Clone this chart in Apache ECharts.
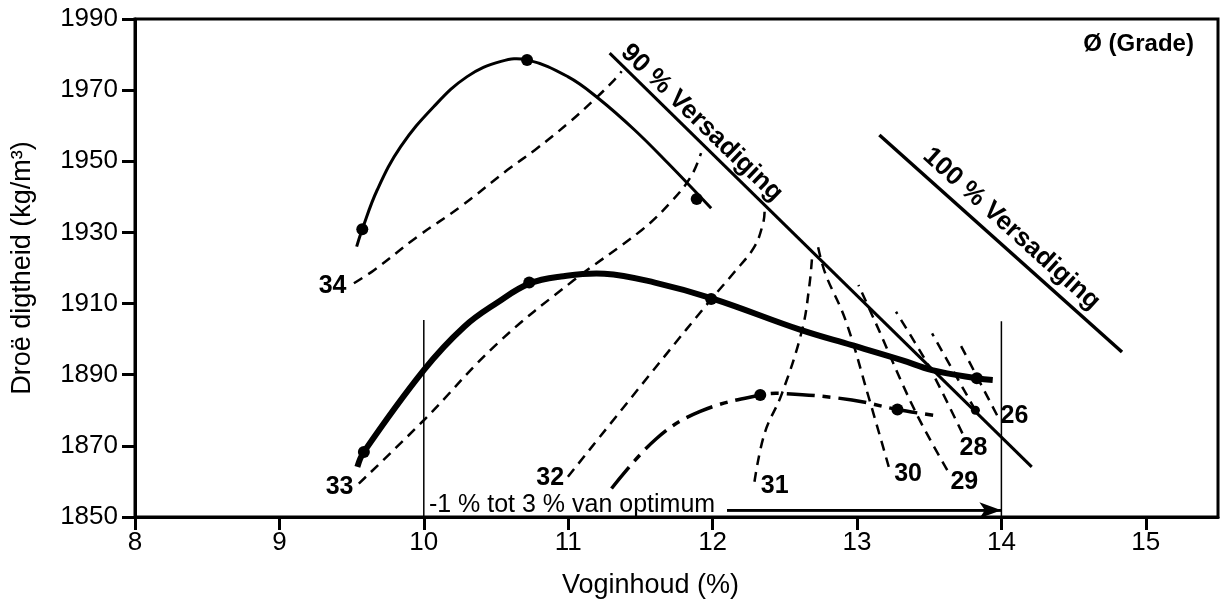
<!DOCTYPE html>
<html><head><meta charset="utf-8">
<script src="https://cdn.jsdelivr.net/npm/echarts@6/dist/echarts.min.js"></script>
<style>html,body{margin:0;padding:0;background:#fff}#c{width:1223px;height:604px}</style>
</head><body><div id="c"></div>
<script>
const FONT = '"Liberation Sans", Arial, Helvetica, sans-serif';

// axis ticks
const xTicks = [8, 9, 10, 11, 12, 13, 14, 15];
const yTicks = [1850, 1870, 1890, 1910, 1930, 1950, 1970, 1990];

// compaction curves (moisture %, dry density kg/m3)
const curve34 = [[9.535,1926.0],[9.574,1930.9],[9.678,1942.0],[9.84,1954.1],[10.07,1965.4],[10.30,1973.8],[10.535,1978.1],[10.715,1978.5],[10.997,1973.8],[11.206,1967.8],[11.46,1958.8],[11.69,1949.5],[11.99,1936.8]];
const dots34 = [[9.574,1930.9],[10.715,1978.5],[11.89,1939.4]];

const curve33 = [[9.54,1864.1],[9.585,1868.3],[10.0,1891.3],[10.28,1903.5],[10.51,1910.3],[10.73,1915.6],[10.95,1917.6],[11.25,1918.4],[11.6,1915.9],[12.0,1911.4],[12.61,1902.6],[12.965,1898.3],[13.31,1894.1],[13.52,1891.3],[13.83,1889.0],[13.94,1888.5]];
const dots33 = [[9.585,1868.3],[10.73,1915.9],[11.99,1911.3],[13.83,1889.0]];

const curveDashDot = [[11.30,1858.0],[11.61,1872.0],[11.91,1879.6],[12.33,1884.3],[12.50,1884.7],[12.965,1882.9],[13.28,1880.2],[13.53,1878.6]];
const dotsDashDot = [[12.33,1884.3],[13.28,1880.2]];
const dotsSat = [[13.82,1880.0]];

// saturation lines
const sat90 = [[11.287,1980.4],[14.21,1864.1]];
const sat100 = [[13.155,1957.4],[14.835,1896.4]];

// grade (dashed) lines
const g34 = [[9.516,1915.7],[9.655,1919.4],[9.956,1928.8],[10.257,1937.3],[10.58,1947.6],[10.77,1953.2],[11.0,1960.7],[11.18,1967.3],[11.32,1972.9],[11.37,1975.3]];
const g33 = [[9.55,1859.4],[10.0,1877.2],[10.51,1898.8],[11.04,1916.6],[11.51,1930.7],[11.71,1938.5],[11.85,1945.7],[11.92,1952.3]];
const g32 = [[10.998,1861.3],[11.646,1894.1],[11.99,1911.2],[12.15,1918.8],[12.29,1926.0],[12.35,1932.6],[12.36,1935.8]];
const g31 = [[12.29,1859.9],[12.36,1873.5],[12.48,1884.7],[12.62,1902.6],[12.67,1915.0],[12.69,1923.7]];
const g30 = [[13.22,1864.1],[13.08,1883.8],[12.92,1905.4],[12.78,1918.5],[12.73,1926.0]];
const g29 = [[13.625,1863.2],[13.40,1880.0],[13.13,1904.5],[13.01,1915.2]];
const g28 = [[13.73,1873.5],[13.50,1892.2],[13.27,1907.7]];
const g27 = [[13.82,1880.0],[13.52,1901.6]];
const g26 = [[13.97,1878.6],[13.705,1899.3]];

// optimum range markers
const vline10 = [[10,1850],[10,1905.4]];
const vline14 = [[14,1850],[14,1905.0]];
const arrowLine = [[12.1,1851.9],[14,1851.9]];

// text labels
const gradeLabels = [
  {text:'34', x:9.368, y:1914.9},
  {text:'33', x:9.417, y:1858.4},
  {text:'32', x:10.875, y:1861.0},
  {text:'31', x:12.43, y:1858.6},
  {text:'30', x:13.354, y:1862.0},
  {text:'29', x:13.743, y:1859.8},
  {text:'28', x:13.806, y:1869.3},
  {text:'26', x:14.09, y:1878.3}
];
const satLabels = [
  {text:'90 % Versadiging', x:11.924, y:1960.8, rot:-44},
  {text:'100 % Versadiging', x:14.07, y:1931.0, rot:-42}
];
const gradeTitle = {text:'Ø (Grade)', x:14.95, y:1982.8};
const rangeText = {text:'-1 % tot 3 % van optimum', x:10.035, y:1853.3};

// smooth curve through the read points, positioned with the cartesian scales (api.coord)
function curve(data, width, dash, smooth) {
  return {type:'custom', coordinateSystem:'cartesian2d', silent:true, z:3, clip:false,
    data:[data[0]],
    renderItem:(params, api) => ({
      type:'polyline',
      shape:{points:data.map(p => api.coord(p)), smooth:smooth},
      style:{stroke:'#000', fill:'none', lineWidth:width, lineDash:dash || null, lineCap:'butt', lineJoin:'round'}
    })};
}
function line(data, width, type) {
  return {type:'line', data:data, symbol:'none', silent:true, z:2,
    lineStyle:{color:'#000', width:width, type:type || 'solid', cap:'butt', opacity:1}};
}
function dots(data, size) {
  return {type:'scatter', data:data, symbol:'circle', symbolSize:size || 12, silent:true, z:5,
    itemStyle:{color:'#000', opacity:1}};
}
function textSeries(items, fontSize, weight, align) {
  return {type:'scatter', silent:true, z:6, symbolSize:0.1, itemStyle:{color:'rgba(0,0,0,0)', opacity:1},
    data: items.map(t => ({value:[t.x, t.y], label:{formatter:t.text, rotate:t.rot || 0}})),
    label:{show:true, position: align === 'left' ? 'right' : 'inside', distance:0, color:'#000', opacity:1,
      textBorderWidth:0, fontFamily:FONT, fontSize:fontSize, fontWeight:weight}};
}

const dashed = [10, 7];
const option = {
  animation:false,
  backgroundColor:'#fff',
  grid:{left:135, right:5, top:19, bottom:87, show:true, borderColor:'#000', borderWidth:3},
  xAxis:{type:'value', min:8, max:15.5, interval:1,
    axisLine:{lineStyle:{color:'#000', width:3}},
    axisTick:{length:13, lineStyle:{color:'#000', width:3}, customValues:xTicks},
    axisLabel:{customValues:xTicks, fontSize:26, color:'#000', margin:13, fontFamily:FONT,
      formatter: v => String(v)},
    splitLine:{show:false},
    name:'Voginhoud (%)', nameLocation:'middle', nameGap:55,
    nameTextStyle:{fontSize:27, color:'#000', fontFamily:FONT, padding:[0,52,0,0]}},
  yAxis:{type:'value', min:1850, max:1990, interval:20,
    axisLine:{lineStyle:{color:'#000', width:3}},
    axisTick:{length:13, lineStyle:{color:'#000', width:3}, customValues:yTicks},
    axisLabel:{customValues:yTicks, fontSize:26, color:'#000', margin:17, fontFamily:FONT,
      formatter: v => String(v)},
    splitLine:{show:false},
    name:'Droë digtheid (kg/m³)', nameLocation:'middle', nameGap:99,
    nameTextStyle:{fontSize:27, color:'#000', fontFamily:FONT}},
  series:[
    curve(curve34, 3, null, 0.4),
    dots(dots34),
    curve(curve33, 6, null, 0.4),
    dots(dots33),
    curve(curveDashDot, 3.5, [28,8,8,8], 0.4),
    dots(dotsDashDot),
    dots(dotsSat, 9),
    line(sat90, 3),
    line(sat100, 3.5),
    curve(g34, 2.5, dashed, 0.4),
    curve(g33, 2.5, dashed, 0.4),
    curve(g32, 2.5, dashed, 0.4),
    curve(g31, 2.5, dashed, 0.4),
    curve(g30, 2.5, dashed, 0.4),
    curve(g29, 2.5, dashed, 0.4),
    curve(g28, 2.5, dashed, 0.3),
    line(g27, 2.5, dashed),
    line(g26, 2.5, dashed),
    line(vline10, 1.5),
    line(vline14, 1.5),
    {type:'line', data:arrowLine, symbol:'none', silent:true, lineStyle:{color:'#000', width:2.5},
      markLine:{silent:true, symbol:['none','arrow'], symbolSize:[12,22], label:{show:false},
        lineStyle:{color:'#000', width:2.5, type:'solid'},
        data:[[{coord:arrowLine[0]},{coord:arrowLine[1]}]]}},
    textSeries(gradeLabels, 25, 'bold'),
    textSeries(satLabels, 26, 'bold'),
    textSeries([gradeTitle], 24, 'bold'),
    textSeries([rangeText], 25, 'normal', 'left')
  ]
};
const chart = echarts.init(document.getElementById('c'));
chart.setOption(option);
</script></body></html>
